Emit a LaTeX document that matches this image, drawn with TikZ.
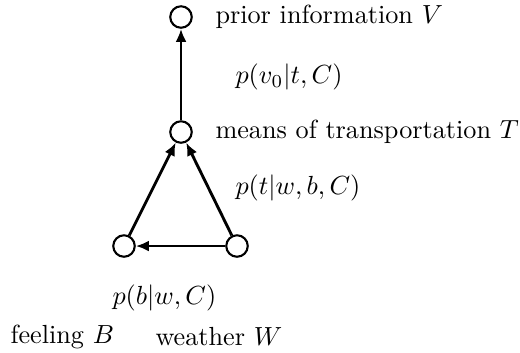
\documentclass[tikz,border=0pt]{standalone}
\usetikzlibrary{arrows.meta}
\begin{document}
\begin{tikzpicture}[x=0.3817pt,y=-0.3817pt,
  vnode/.style={circle,draw,line width=0.8pt,minimum size=8.2pt,inner sep=0pt},
  lbl/.style={anchor=west,inner sep=0pt},
  edge/.style={line width=1.1pt,-{Latex[length=5pt,width=4.2pt]}}]
\useasboundingbox (0,0) rectangle (520,352);
\node[vnode] (V) at (181,17) {};
\node[vnode] (T) at (181,132) {};
\node[vnode] (B) at (124,246) {};
\node[vnode] (W) at (237,246) {};
\draw[edge] (T) -- (V);
\draw[edge] (B) -- (T);
\draw[edge] (W) -- (T);
\draw[edge] (W) -- (B);
\node[lbl] (lV) at (215,17) {prior information $V$};
\node[lbl] (lpv) at (235,77) {$p(v_0|t,C)$};
\node[lbl] (lT) at (215,132) {means of transportation $T$};
\node[lbl] (lpt) at (235,188) {$p(t|w,b,C)$};
\node[lbl] (lpb) at (112,298) {$p(b|w,C)$};
\node[lbl] (lB) at (10,337) {feeling $B$};
\node[lbl] (lW) at (155,337) {weather $W$};
\end{tikzpicture}
\end{document}
